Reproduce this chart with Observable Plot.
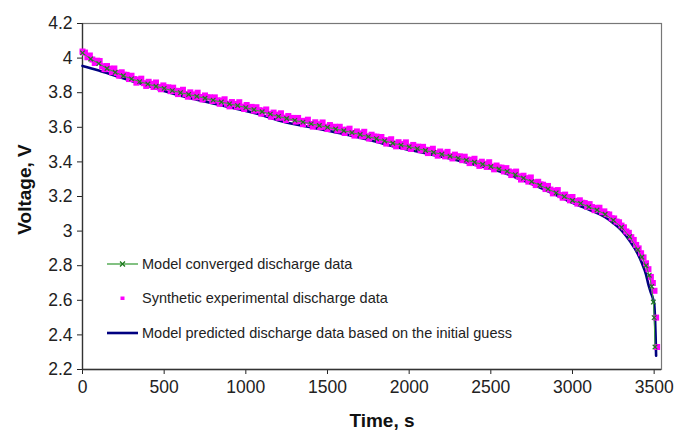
<!DOCTYPE html>
<html>
<head>
<meta charset="utf-8">
<script src="https://cdn.jsdelivr.net/npm/d3@7"></script>
<script src="https://cdn.jsdelivr.net/npm/@observablehq/plot@0.6"></script>
<style>
  html, body { margin: 0; padding: 0; background: #fff; }
  #wrap { position: relative; width: 694px; height: 433px; font-family: "Liberation Sans", Arial, sans-serif; }
  .lg-row { position: absolute; left: 105px; height: 20px; display: flex; align-items: center; font-size: 14.5px; color: #222; white-space: nowrap; }
  .lg-row svg { display: block; margin-right: 3px; }
</style>
</head>
<body>
<div id="wrap"></div>
<script>
// ---- Data ----
const xTicks = [0, 500, 1000, 1500, 2000, 2500, 3000, 3500];
const xTickLabels = ["0", "500", "1000", "1500", "2000", "2500", "3000", "3500"];
const yTicks = [2.2, 2.4, 2.6, 2.8, 3.0, 3.2, 3.4, 3.6, 3.8, 4.0, 4.2];
const yTickLabels = ["2.2", "2.4", "2.6", "2.8", "3", "3.2", "3.4", "3.6", "3.8", "4", "4.2"];
const xLabel = "Time, s";
const yLabel = "Voltage, V";
const seriesNames = [
  "Model converged discharge data",
  "Synthetic experimental discharge data",
  "Model predicted discharge data based on the initial guess"
];

// Model predicted (initial guess) - navy line
const predTime = [0, 50, 100, 200, 300, 400, 500, 600, 700, 800, 900, 1000, 1100, 1200, 1300, 1400, 1500, 1600, 1700, 1800, 1900, 2000, 2100, 2200, 2300, 2400, 2500, 2600, 2700, 2800, 2900, 3000, 3100, 3200, 3250, 3300, 3350, 3400, 3425, 3450, 3465, 3480, 3492, 3500, 3506, 3509, 3512];
const predVolt = [3.955, 3.942, 3.928, 3.898, 3.868, 3.840, 3.810, 3.783, 3.760, 3.738, 3.716, 3.695, 3.670, 3.640, 3.618, 3.600, 3.580, 3.562, 3.540, 3.516, 3.490, 3.470, 3.450, 3.430, 3.408, 3.384, 3.360, 3.330, 3.292, 3.252, 3.208, 3.163, 3.125, 3.080, 3.046, 3.004, 2.944, 2.868, 2.815, 2.750, 2.690, 2.645, 2.612, 2.580, 2.480, 2.390, 2.280];

// Model converged - green line with x markers
const convTime = [0, 50, 100, 150, 200, 250, 300, 350, 400, 450, 500, 550, 600, 650, 700, 750, 800, 850, 900, 950, 1000, 1050, 1100, 1150, 1200, 1250, 1300, 1350, 1400, 1450, 1500, 1550, 1600, 1650, 1700, 1750, 1800, 1850, 1900, 1950, 2000, 2050, 2100, 2150, 2200, 2250, 2300, 2350, 2400, 2450, 2500, 2550, 2600, 2650, 2700, 2750, 2800, 2850, 2900, 2950, 3000, 3050, 3100, 3150, 3200, 3250, 3300, 3350, 3400, 3425, 3450, 3470, 3485, 3495, 3500, 3505];
const convVolt = [4.030, 3.995, 3.968, 3.940, 3.918, 3.898, 3.880, 3.864, 3.850, 3.837, 3.825, 3.812, 3.800, 3.790, 3.779, 3.768, 3.757, 3.746, 3.735, 3.725, 3.714, 3.702, 3.690, 3.676, 3.663, 3.651, 3.640, 3.630, 3.620, 3.610, 3.600, 3.590, 3.580, 3.569, 3.558, 3.546, 3.534, 3.521, 3.508, 3.497, 3.487, 3.477, 3.466, 3.455, 3.444, 3.433, 3.422, 3.410, 3.398, 3.386, 3.373, 3.359, 3.345, 3.326, 3.306, 3.286, 3.265, 3.243, 3.221, 3.199, 3.177, 3.160, 3.140, 3.122, 3.097, 3.063, 3.022, 2.968, 2.893, 2.850, 2.800, 2.745, 2.680, 2.590, 2.500, 2.330];

// Synthetic experimental - magenta squares
const expTime = [0, 15, 30, 45, 60, 75, 90, 105, 120, 135, 150, 165, 180, 195, 210, 225, 240, 255, 270, 285, 300, 315, 330, 345, 360, 375, 390, 405, 420, 435, 450, 465, 480, 495, 510, 525, 540, 555, 570, 585, 600, 615, 630, 645, 660, 675, 690, 705, 720, 735, 750, 765, 780, 795, 810, 825, 840, 855, 870, 885, 900, 915, 930, 945, 960, 975, 990, 1005, 1020, 1035, 1050, 1065, 1080, 1095, 1110, 1125, 1140, 1155, 1170, 1185, 1200, 1215, 1230, 1245, 1260, 1275, 1290, 1305, 1320, 1335, 1350, 1365, 1380, 1395, 1410, 1425, 1440, 1455, 1470, 1485, 1500, 1515, 1530, 1545, 1560, 1575, 1590, 1605, 1620, 1635, 1650, 1665, 1680, 1695, 1710, 1725, 1740, 1755, 1770, 1785, 1800, 1815, 1830, 1845, 1860, 1875, 1890, 1905, 1920, 1935, 1950, 1965, 1980, 1995, 2010, 2025, 2040, 2055, 2070, 2085, 2100, 2115, 2130, 2145, 2160, 2175, 2190, 2205, 2220, 2235, 2250, 2265, 2280, 2295, 2310, 2325, 2340, 2355, 2370, 2385, 2400, 2415, 2430, 2445, 2460, 2475, 2490, 2505, 2520, 2535, 2550, 2565, 2580, 2595, 2610, 2625, 2640, 2655, 2670, 2685, 2700, 2715, 2730, 2745, 2760, 2775, 2790, 2805, 2820, 2835, 2850, 2865, 2880, 2895, 2910, 2925, 2940, 2955, 2970, 2985, 3000, 3015, 3030, 3045, 3060, 3075, 3090, 3105, 3120, 3135, 3150, 3165, 3180, 3195, 3210, 3225, 3240, 3255, 3270, 3285, 3300, 3315, 3330, 3345, 3360, 3375, 3390, 3405, 3420, 3435, 3450, 3465, 3480, 3492, 3502, 3512, 3518];
const expVolt = [4.038, 4.032, 4.005, 4.015, 3.992, 3.972, 3.985, 3.983, 3.953, 3.936, 3.954, 3.939, 3.919, 3.940, 3.914, 3.898, 3.918, 3.904, 3.903, 3.879, 3.898, 3.879, 3.858, 3.876, 3.881, 3.855, 3.839, 3.863, 3.851, 3.833, 3.859, 3.833, 3.820, 3.842, 3.830, 3.831, 3.809, 3.829, 3.811, 3.792, 3.810, 3.817, 3.792, 3.777, 3.802, 3.790, 3.773, 3.800, 3.775, 3.761, 3.784, 3.773, 3.773, 3.752, 3.773, 3.756, 3.736, 3.755, 3.762, 3.736, 3.721, 3.746, 3.735, 3.718, 3.745, 3.719, 3.706, 3.729, 3.717, 3.718, 3.696, 3.716, 3.699, 3.679, 3.697, 3.703, 3.677, 3.661, 3.685, 3.673, 3.655, 3.681, 3.656, 3.642, 3.665, 3.654, 3.654, 3.633, 3.654, 3.637, 3.618, 3.637, 3.644, 3.619, 3.604, 3.629, 3.618, 3.601, 3.628, 3.603, 3.590, 3.613, 3.602, 3.603, 3.582, 3.603, 3.586, 3.567, 3.586, 3.592, 3.567, 3.552, 3.576, 3.565, 3.548, 3.574, 3.548, 3.535, 3.557, 3.546, 3.546, 3.524, 3.544, 3.526, 3.506, 3.525, 3.531, 3.505, 3.490, 3.514, 3.503, 3.486, 3.513, 3.488, 3.475, 3.498, 3.487, 3.488, 3.467, 3.487, 3.470, 3.451, 3.469, 3.476, 3.451, 3.436, 3.460, 3.449, 3.432, 3.458, 3.433, 3.420, 3.442, 3.431, 3.432, 3.410, 3.430, 3.413, 3.393, 3.412, 3.418, 3.392, 3.377, 3.401, 3.389, 3.371, 3.398, 3.372, 3.357, 3.379, 3.367, 3.367, 3.345, 3.364, 3.345, 3.324, 3.340, 3.344, 3.316, 3.298, 3.320, 3.306, 3.286, 3.310, 3.282, 3.266, 3.285, 3.270, 3.268, 3.243, 3.261, 3.240, 3.218, 3.233, 3.237, 3.208, 3.193, 3.211, 3.196, 3.178, 3.197, 3.174, 3.159, 3.178, 3.164, 3.162, 3.140, 3.156, 3.139, 3.121, 3.134, 3.135, 3.109, 3.114, 3.098, 3.096, 3.074, 3.073, 3.055, 3.051, 3.032, 3.022, 2.998, 2.990, 2.965, 2.949, 2.920, 2.900, 2.872, 2.848, 2.814, 2.780, 2.735, 2.700, 2.655, 2.500, 2.330];

// ---- Build tables ----
const pred = predTime.map((t, i) => ({t, v: predVolt[i]}));
const conv = convTime.map((t, i) => ({t, v: convVolt[i]}));
const exp = expTime.map((t, i) => ({t, v: expVolt[i]}));

const colPred = "#000080";
const colConvLine = "#3f9f3f";
const colConvMark = "#1f7a1f";
const colExp = "#ff00ff";

const chart = Plot.plot({
  width: 694,
  height: 433,
  marginLeft: 82,
  marginRight: 33,
  marginTop: 23,
  marginBottom: 64,
  style: {fontFamily: "'Liberation Sans', Arial, sans-serif", fontSize: "17.5px", color: "#222", background: "#fff"},
  x: {domain: [0, 3545], ticks: xTicks, tickFormat: d => xTickLabels[xTicks.indexOf(d)], tickSize: 5, tickPadding: 6, label: null},
  y: {domain: [2.2, 4.2], ticks: yTicks, tickFormat: d => yTickLabels[yTicks.indexOf(d)], tickSize: 5, tickPadding: 5, label: null},
  marks: [
    Plot.frame({stroke: "#777", strokeWidth: 1.2}),
    Plot.ruleX([0], {stroke: "#333", strokeWidth: 1.3}),
    Plot.ruleY([2.2], {stroke: "#333", strokeWidth: 1.3}),
    Plot.line(pred, {x: "t", y: "v", stroke: colPred, strokeWidth: 2.6, curve: "monotone-x"}),
    Plot.dot(exp, {x: "t", y: "v", symbol: "square", r: 3.4, fill: colExp, stroke: "none"}),
    Plot.line(conv, {x: "t", y: "v", stroke: colConvLine, strokeWidth: 1}),
    Plot.dot(conv, {x: "t", y: "v", symbol: "times", r: 2.2, stroke: colConvMark, strokeWidth: 1.2}),
    Plot.text([xLabel], {frameAnchor: "bottom", textAnchor: "middle", lineAnchor: "middle", dy: 51, dx: 10, fontSize: 19, fontWeight: "bold", fill: "#111"}),
    Plot.text([yLabel], {frameAnchor: "left", textAnchor: "middle", lineAnchor: "middle", dx: -58, dy: -7, rotate: -90, fontSize: 19, fontWeight: "bold", fill: "#111"})
  ]
});

const wrap = document.getElementById("wrap");
wrap.appendChild(chart);

// ---- Legend (inside plot area, HTML overlay) ----
const legendTops = [254, 288, 323];
const legendSwatches = [
  `<svg width="34" height="12"><line x1="2" y1="6" x2="33" y2="6" stroke="${colConvLine}" stroke-width="1.3"/><path d="M15,3.5L20,8.5M20,3.5L15,8.5" stroke="${colConvMark}" stroke-width="1.3"/></svg>`,
  `<svg width="34" height="12"><rect x="15.5" y="4.5" width="4" height="3.5" fill="${colExp}"/></svg>`,
  `<svg width="34" height="12"><line x1="2" y1="6" x2="33" y2="6" stroke="${colPred}" stroke-width="2.6"/></svg>`
];
seriesNames.forEach((name, i) => {
  const row = document.createElement("div");
  row.className = "lg-row";
  row.style.top = legendTops[i] + "px";
  row.innerHTML = legendSwatches[i] + `<span>${name}</span>`;
  wrap.appendChild(row);
});
</script>
</body>
</html>
